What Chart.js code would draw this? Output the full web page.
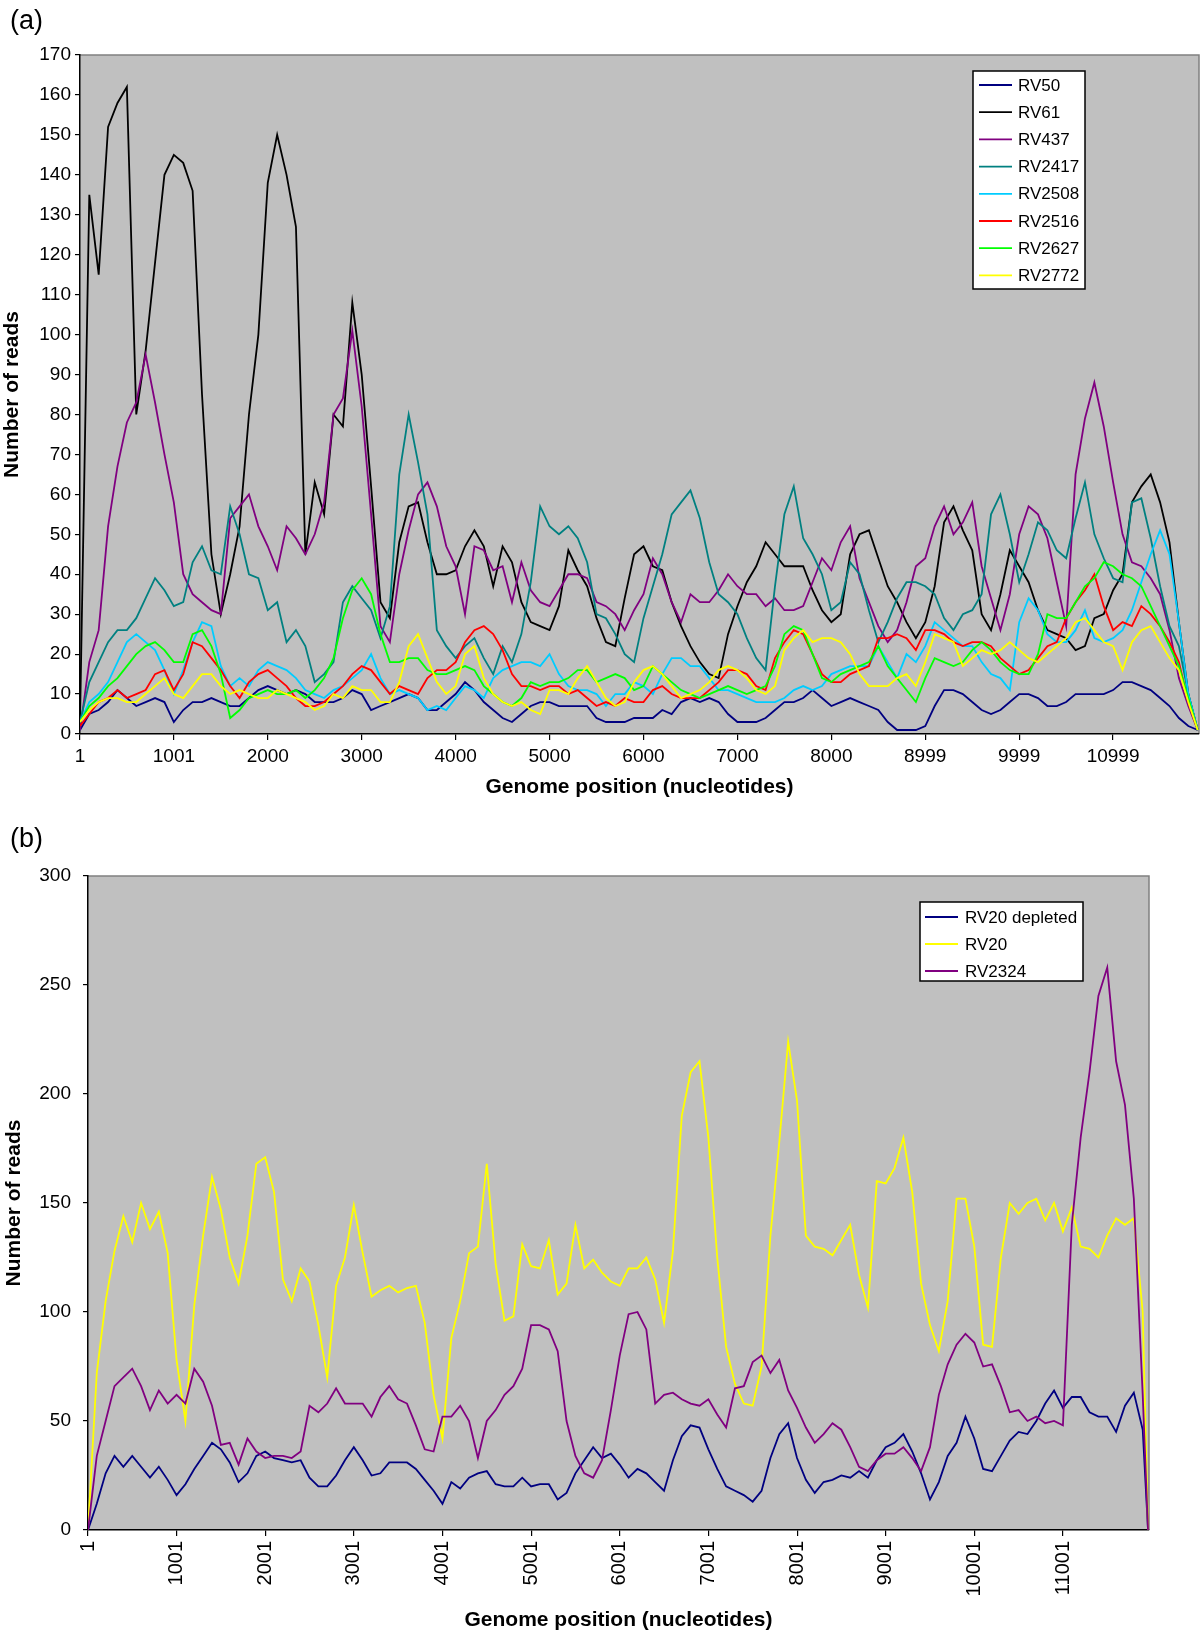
<!DOCTYPE html>
<html>
<head>
<meta charset="utf-8">
<title>Genome coverage</title>
<script src="https://cdn.jsdelivr.net/npm/chart.js@4.4.1/dist/chart.umd.min.js"></script>
<style>
  html, body { margin: 0; padding: 0; background: #fff; }
  #page { position: relative; width: 1200px; height: 1633px; overflow: hidden; }
  canvas { position: absolute; left: 0; }
  #chartA { top: 0; }
  #chartB { top: 800px; }
  .panel-tag { position: absolute; font-family: "Liberation Sans", Arial, sans-serif; font-size: 27px; line-height: 1; color: #000; }
</style>
</head>
<body>
<div id="page">
  <canvas id="chartA" width="1200" height="800"></canvas>
  <canvas id="chartB" width="1200" height="833"></canvas>
  <div class="panel-tag" style="left:10px;top:7px">(a)</div>
  <div class="panel-tag" style="left:10px;top:825px">(b)</div>
</div>
<script>
// ---- panel (a): genome positions sampled every 100 nt ----
const posA = [1,100,200,300,400,500,600,700,800,900,
  1000,1100,1200,1300,1400,1500,1600,1700,1800,1900,
  2000,2100,2200,2300,2400,2500,2600,2700,2800,2900,
  3000,3100,3200,3300,3400,3500,3600,3700,3800,3900,
  4000,4100,4200,4300,4400,4500,4600,4700,4800,4900,
  5000,5100,5200,5300,5400,5500,5600,5700,5800,5900,
  6000,6100,6200,6300,6400,6500,6600,6700,6800,6900,
  7000,7100,7200,7300,7400,7500,7600,7700,7800,7900,
  8000,8100,8200,8300,8400,8500,8600,8700,8800,8900,
  9000,9100,9200,9300,9400,9500,9600,9700,9800,9900,
  10000,10100,10200,10300,10400,10500,10600,10700,10800,10900,
  11000,11100,11200,11300,11400,11500,11600,11700,11800,11900];

const rv50 = [1,5,6,8,11,9,7,8,9,8,
  3,6,8,8,9,8,7,7,9,11,
  12,11,10,11,10,8,8,8,9,11,
  10,6,7,8,9,10,9,6,6,8,
  10,13,11,8,6,4,3,5,7,8,
  8,7,7,7,7,4,3,3,3,4,
  4,4,6,5,8,9,8,9,8,5,
  3,3,3,4,6,8,8,9,11,9,
  7,8,9,8,7,6,3,1,1,1,
  2,7,11,11,10,8,6,5,6,8,
  10,10,9,7,7,8,10,10,10,10,
  11,13,13,12,11,9,7,4,2,1];

const rv61 = [3,135,115,152,158,162,80,96,118,140,
  145,143,136,85,45,30,40,52,80,100,
  138,150,140,127,45,63,55,80,77,108,
  90,62,33,29,48,57,58,48,40,40,
  41,47,51,47,37,47,43,33,28,27,
  26,32,46,41,37,29,23,22,34,45,
  47,42,41,33,27,22,18,15,14,25,
  32,38,42,48,45,42,42,42,36,31,
  28,30,45,50,51,44,37,33,28,24,
  28,37,53,57,51,46,30,26,35,46,
  42,38,31,26,25,24,21,22,29,30,
  36,40,58,62,65,58,48,28,10,1];

const rv437 = [1,18,26,52,67,78,83,95,83,70,
  58,40,35,33,31,30,54,57,60,52,
  47,41,52,49,45,50,58,80,84,101,
  82,55,27,23,40,51,60,63,57,47,
  42,30,47,46,41,42,33,43,36,33,
  32,36,40,40,39,33,32,30,26,31,
  35,44,40,33,28,35,33,33,36,40,
  37,35,35,32,34,31,31,32,38,44,
  41,48,52,39,33,27,23,26,33,42,
  44,52,57,50,53,58,42,34,26,35,
  50,57,55,49,38,27,65,79,88,77,
  63,50,43,42,39,35,26,14,7,1];

const rv2417 = [3,13,18,23,26,26,29,34,39,36,
  32,33,43,47,41,40,57,50,40,39,
  31,33,23,26,22,13,15,18,33,37,
  34,31,24,32,65,80,68,55,26,22,
  19,22,24,19,15,22,18,25,38,57,
  52,50,52,49,43,30,29,25,20,18,
  29,37,45,55,58,61,54,43,35,33,
  30,24,19,16,37,55,62,49,45,40,
  31,33,43,40,31,23,28,34,38,38,
  37,35,29,26,30,31,35,55,60,50,
  38,45,53,51,46,44,54,63,50,44,
  39,38,58,59,49,37,27,22,10,1];

const rv2508 = [3,8,10,13,18,23,25,23,21,16,
  10,16,23,28,27,17,12,14,12,16,
  18,17,16,14,11,10,9,11,12,14,
  16,20,14,10,11,10,9,6,7,6,
  9,12,11,9,14,16,17,18,18,17,
  20,15,12,11,11,10,7,10,10,13,
  12,10,15,19,19,17,17,14,11,11,
  10,9,8,8,8,9,11,12,11,12,
  15,16,17,17,17,22,18,14,20,18,
  22,28,26,24,22,22,18,15,14,11,
  28,34,31,25,23,23,26,31,24,23,
  24,26,31,38,45,51,45,28,10,1];

const rv2516 = [2,5,8,9,11,9,10,11,15,16,
  11,15,23,22,19,16,12,9,13,15,
  16,14,12,9,7,7,8,10,12,15,
  17,16,13,10,12,11,10,14,16,16,
  18,23,26,27,25,21,15,12,12,11,
  12,12,10,11,9,7,8,7,9,8,
  8,11,12,10,9,9,9,11,13,16,
  16,15,12,11,19,23,26,25,20,15,
  13,13,15,16,17,24,24,25,24,21,
  26,26,25,23,22,23,23,22,19,17,
  15,16,19,22,23,29,33,36,40,32,
  26,28,27,32,30,27,23,18,8,1];

const rv2627 = [3,7,9,12,14,17,20,22,23,21,
  18,18,25,26,22,15,4,6,9,10,
  11,10,10,11,9,11,14,19,29,36,
  39,35,25,18,18,19,19,16,15,15,
  16,17,16,12,10,8,7,9,13,12,
  13,13,14,16,16,13,14,15,14,11,
  12,17,15,13,11,10,9,10,11,12,
  11,10,11,12,17,25,27,26,20,14,
  13,15,16,17,18,22,17,14,11,8,
  14,19,18,17,18,21,23,21,18,16,
  15,15,20,30,29,29,33,37,39,43,
  42,40,39,37,32,27,22,17,9,1];

const rv2772 = [3,6,8,9,9,8,8,10,12,14,
  10,9,12,15,15,12,10,11,10,9,
  9,11,10,9,8,6,7,10,9,12,
  11,11,8,8,13,22,25,19,13,10,
  12,20,22,14,10,8,7,8,6,5,
  11,11,10,14,17,13,9,7,8,13,
  16,17,15,12,9,10,11,13,16,17,
  16,14,11,10,12,21,24,26,23,24,
  24,23,20,15,12,12,12,14,15,12,
  18,25,24,23,17,19,21,20,21,23,
  21,19,18,20,22,24,28,29,26,23,
  22,16,23,26,27,23,19,16,8,1];

const ticksA = [1, 1001, 2000, 3000, 4000, 5000, 6000, 7000, 8000, 8999, 9999, 10999];

// ---- panel (b) ----
const posB = [1,100,200,300,400,500,600,700,800,900,
  1000,1100,1200,1300,1400,1500,1600,1700,1800,1900,
  2000,2100,2200,2300,2400,2500,2600,2700,2800,2900,
  3000,3100,3200,3300,3400,3500,3600,3700,3800,3900,
  4000,4100,4200,4300,4400,4500,4600,4700,4800,4900,
  5000,5100,5200,5300,5400,5500,5600,5700,5800,5900,
  6000,6100,6200,6300,6400,6500,6600,6700,6800,6900,
  7000,7100,7200,7300,7400,7500,7600,7700,7800,7900,
  8000,8100,8200,8300,8400,8500,8600,8700,8800,8900,
  9000,9100,9200,9300,9400,9500,9600,9700,9800,9900,
  10000,10100,10200,10300,10400,10500,10600,10700,10800,10900,
  11000,11100,11200,11300,11400,11500,11600,11700,11800,11900,
  11960];

const rv20Depleted = [0,12,26,34,29,34,29,24,29,23,
  16,21,28,34,40,37,31,22,26,34,
  36,33,32,31,32,24,20,20,25,32,
  38,32,25,26,31,31,31,28,23,18,
  12,22,19,24,26,27,21,20,20,24,
  20,21,21,14,17,26,32,38,33,35,
  30,24,28,26,22,18,32,43,48,47,
  37,28,20,18,16,13,18,33,44,49,
  33,23,17,22,23,25,24,27,24,32,
  38,40,44,36,26,14,22,34,40,52,
  42,28,27,34,41,45,44,50,58,64,
  56,61,61,54,52,52,45,57,63,46,
  0];

const rv20 = [0,72,105,128,144,132,150,138,146,127,
  78,50,103,135,162,147,125,113,135,168,
  171,155,115,105,120,114,94,70,112,125,
  149,127,107,110,112,109,111,112,95,62,
  42,88,105,127,130,168,122,96,98,131,
  121,120,133,108,113,140,120,124,118,114,
  112,120,120,125,115,95,128,190,210,215,
  180,125,84,67,58,57,75,135,178,224,
  197,135,130,129,126,133,140,117,102,160,
  159,166,180,155,113,94,82,105,152,152,
  130,85,84,125,150,145,150,152,142,150,
  137,148,130,129,125,135,143,140,143,100,
  0];

const rv2324 = [0,34,50,66,70,74,66,55,64,58,
  62,58,74,68,57,39,40,30,42,36,
  33,34,34,33,36,57,54,58,65,58,
  58,58,52,61,66,60,58,48,37,36,
  52,52,57,50,33,50,55,62,66,74,
  94,94,92,82,50,34,26,24,32,55,
  80,99,100,92,58,62,63,60,58,57,
  60,53,47,65,66,77,80,72,78,64,
  56,47,40,44,49,46,38,29,27,32,
  35,35,38,33,27,38,62,76,85,90,
  86,75,76,66,54,55,50,52,49,50,
  48,140,180,210,245,258,215,195,152,62,
  0];

const ticksB = [1, 1001, 2001, 3001, 4001, 5001, 6001, 7001, 8001, 9001, 10001, 11001];

const REGULAR = '"Liberation Sans", Arial, sans-serif';

// grey plot area with a thin grey frame on top and right, like the spreadsheet chart
const plotFrame = {
  id: 'plotFrame',
  beforeDraw(chart) {
    const { ctx, chartArea: a } = chart;
    ctx.save();
    ctx.fillStyle = '#c0c0c0';
    ctx.fillRect(a.left, a.top, a.right - a.left, a.bottom - a.top);
    ctx.strokeStyle = '#808080';
    ctx.lineWidth = 1.5;
    ctx.beginPath();
    ctx.moveTo(a.left, a.top);
    ctx.lineTo(a.right, a.top);
    ctx.lineTo(a.right, a.bottom);
    ctx.stroke();
    ctx.restore();
  }
};

// white legend box with a black border, drawn inside the plot
const boxLegend = {
  id: 'boxLegend',
  afterDraw(chart, args, opts) {
    const ctx = chart.ctx;
    ctx.save();
    ctx.fillStyle = '#fff';
    ctx.fillRect(opts.x, opts.y, opts.w, opts.h);
    ctx.strokeStyle = '#000';
    ctx.lineWidth = 1.5;
    ctx.strokeRect(opts.x, opts.y, opts.w, opts.h);
    ctx.font = '17px ' + REGULAR;
    ctx.textBaseline = 'middle';
    chart.data.datasets.forEach((ds, i) => {
      const y = opts.row0 + i * opts.rowGap;
      ctx.strokeStyle = ds.borderColor;
      ctx.lineWidth = 1.8;
      ctx.beginPath();
      ctx.moveTo(opts.lineX0, y);
      ctx.lineTo(opts.lineX1, y);
      ctx.stroke();
      ctx.fillStyle = '#000';
      ctx.fillText(ds.label, opts.textX, y + 1);
    });
    ctx.restore();
  }
};

function coverageChart(canvasId, cfg) {
  const datasets = cfg.series.map((s, i) => ({
    label: s.label,
    data: cfg.pos.map((x, k) => ({ x: x, y: s.values[k] })),
    borderColor: s.color,
    borderWidth: 1.8,
    pointRadius: 0,
    tension: 0,
    fill: false,
    order: -i   // later series on top
  }));

  return new Chart(document.getElementById(canvasId), {
    type: 'line',
    data: { datasets: datasets },
    options: {
      responsive: false,
      animation: false,
      devicePixelRatio: 1,
      layout: { padding: cfg.padding },
      plugins: {
        legend: { display: false },
        tooltip: { enabled: false },
        boxLegend: cfg.legend
      },
      scales: {
        x: {
          type: 'linear',
          min: cfg.xMin,
          max: cfg.xMax,
          afterBuildTicks: scale => { scale.ticks = cfg.xTicks.map(v => ({ value: v })); },
          afterFit: scale => { scale.height = cfg.xHeight; },
          ticks: {
            autoSkip: false,
            minRotation: cfg.xRotation,
            maxRotation: cfg.xRotation,
            padding: cfg.xTickPad,
            color: '#000',
            font: cfg.xTickFont,
            callback: v => String(v)
          },
          grid: { drawOnChartArea: false, drawTicks: true, tickLength: 6, color: '#000', lineWidth: 1.2 },
          border: { color: '#000', width: 1.5 },
          title: {
            display: true,
            text: 'Genome position (nucleotides)',
            color: '#000',
            font: { family: REGULAR, size: 21, weight: 'bold', lineHeight: 1 },
            padding: { top: 0, bottom: 2 }
          }
        },
        y: {
          min: 0,
          max: cfg.yMax,
          afterFit: scale => { scale.width = cfg.yWidth; },
          ticks: {
            stepSize: cfg.yStep,
            padding: cfg.yTickPad,
            color: '#000',
            font: { family: REGULAR, size: 19 }
          },
          grid: { drawOnChartArea: false, drawTicks: true, tickLength: 5, color: '#000', lineWidth: 1.2 },
          border: { color: '#000', width: 1.5 },
          title: {
            display: true,
            text: 'Number of reads',
            color: '#000',
            font: { family: REGULAR, size: 21, weight: 'bold', lineHeight: 1 },
            padding: { top: cfg.yTitlePad, bottom: 0 }
          }
        }
      }
    },
    plugins: [plotFrame, boxLegend]
  });
}

coverageChart('chartA', {
  pos: posA,
  series: [
    { label: 'RV50', values: rv50, color: '#000080' },
    { label: 'RV61', values: rv61, color: '#000000' },
    { label: 'RV437', values: rv437, color: '#800080' },
    { label: 'RV2417', values: rv2417, color: '#008080' },
    { label: 'RV2508', values: rv2508, color: '#00ccff' },
    { label: 'RV2516', values: rv2516, color: '#ff0000' },
    { label: 'RV2627', values: rv2627, color: '#00ff00' },
    { label: 'RV2772', values: rv2772, color: '#ffff00' }
  ],
  padding: { top: 55, right: 1, left: 0, bottom: 0 },
  xMin: 1, xMax: 11914, xTicks: ticksA, xHeight: 66, xRotation: 0, xTickPad: 5,
  xTickFont: { family: REGULAR, size: 19 },
  yMax: 170, yStep: 10, yWidth: 80, yTickPad: 4, yTitlePad: 2,
  legend: { x: 973, y: 71, w: 112, h: 218, row0: 85, rowGap: 27.2, lineX0: 979, lineX1: 1012, textX: 1018 }
});

coverageChart('chartB', {
  pos: posB,
  series: [
    { label: 'RV20 depleted', values: rv20Depleted, color: '#000080' },
    { label: 'RV20', values: rv20, color: '#ffff00' },
    { label: 'RV2324', values: rv2324, color: '#800080' }
  ],
  padding: { top: 76, right: 51, left: 0, bottom: 0 },
  xMin: 1, xMax: 11971, xTicks: ticksB, xHeight: 103, xRotation: 90, xTickPad: 5,
  xTickFont: { family: REGULAR, size: 20 },
  yMax: 300, yStep: 50, yWidth: 88, yTickPad: 12, yTitlePad: 4,
  legend: { x: 920, y: 102, w: 163, h: 79, row0: 117, rowGap: 27, lineX0: 925, lineX1: 958, textX: 965 }
});
</script>
</body>
</html>
